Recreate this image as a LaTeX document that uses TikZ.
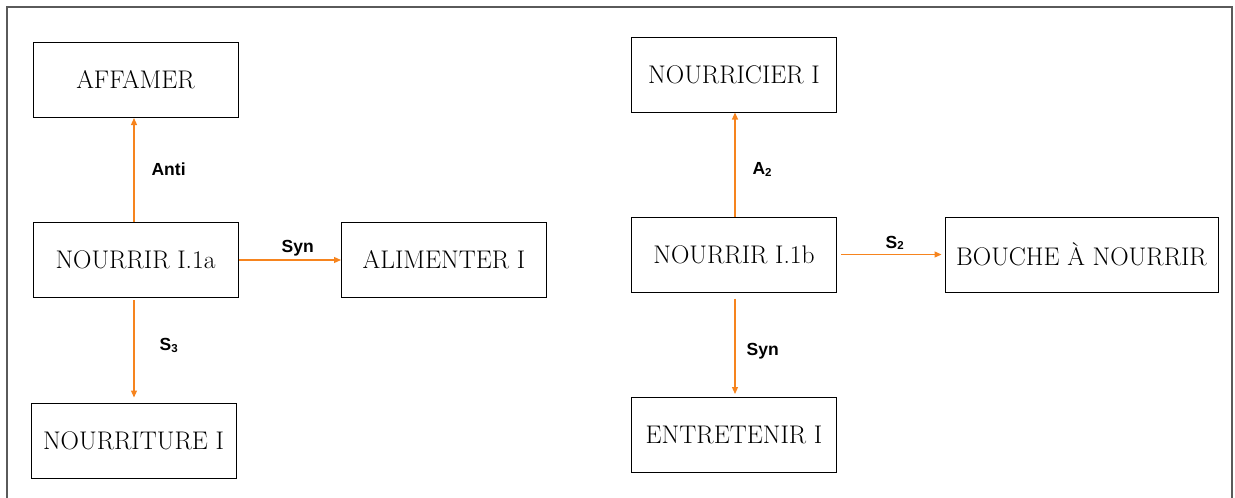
\documentclass[tikz,border=0pt]{standalone}
\usepackage{fontspec}
\newfontfamily\labfont{Liberation Sans}
\usetikzlibrary{arrows.meta}
\definecolor{arrorange}{RGB}{246,132,30}
\definecolor{framegray}{RGB}{90,90,90}
\tikzset{
  word/.style={draw=black, line width=1pt, rectangle, minimum width=205pt, minimum height=75pt, inner sep=0pt, font=\fontsize{25.5}{30}\selectfont},
  rel/.style={draw=arrorange, line width=1.2pt, -{Triangle[length=7pt,width=6pt]}},
  lbl/.style={font=\labfont\bfseries\fontsize{17.5}{20}\selectfont, inner sep=0pt, text=black},
}
\newcommand{\lsub}[1]{\raisebox{-1.5pt}{\fontsize{11.5}{12}\selectfont #1}}
\begin{document}
\begin{tikzpicture}[x=1pt,y=-1pt]
\useasboundingbox (0,0) rectangle (1235,498);
\draw[framegray, line width=1.2pt] (7,500) -- (7,7) -- (1232,7) -- (1232,500);

\node[word] (aff) at (135.5,79.5) {AFFAMER};
\node[word] (n1a) at (135.5,260) {NOURRIR I.1a};
\node[word] (ali) at (444,260) {ALIMENTER I};
\node[word] (nou) at (133.5,440.5) {NOURRITURE I};

\node[word] (nci) at (734,74.5) {NOURRICIER I};
\node[word] (n1b) at (734,254.5) {NOURRIR I.1b};
\node[word, minimum width=273pt] (bou) at (1081.5,254.5) {BOUCHE À NOURRIR};
\node[word] (ent) at (734,435) {ENTRETENIR I};

\draw[rel, shorten >=0.5pt] (n1a.north -| 134,0) -- (aff.south -| 134,0)
  node[lbl, midway, anchor=west, xshift=17pt, yshift=1pt] {Anti};
\draw[rel] (n1a.east) -- (ali.west)
  node[lbl, midway, anchor=south, xshift=8pt, yshift=3pt] {Syn};
\draw[rel, shorten <=2pt, shorten >=5pt] (n1a.south -| 134,0) -- (nou.north -| 134,0)
  node[lbl, midway, anchor=west, xshift=25pt, yshift=5pt] {S\lsub{3}};

\draw[rel] (n1b.north -| 735,0) -- (nci.south -| 735,0)
  node[lbl, midway, anchor=west, xshift=17pt, yshift=-5pt] {A\lsub{2}};
\draw[rel, shorten <=4pt, shorten >=3pt] (n1b.east) -- (bou.west)
  node[lbl, midway, anchor=south, xshift=4pt, yshift=4pt] {S\lsub{2}};
\draw[rel, shorten <=6pt, shorten >=3pt] (n1b.south -| 735,0) -- (ent.north -| 735,0)
  node[lbl, midway, anchor=west, xshift=11pt, yshift=-6pt] {Syn};
\end{tikzpicture}
\end{document}
